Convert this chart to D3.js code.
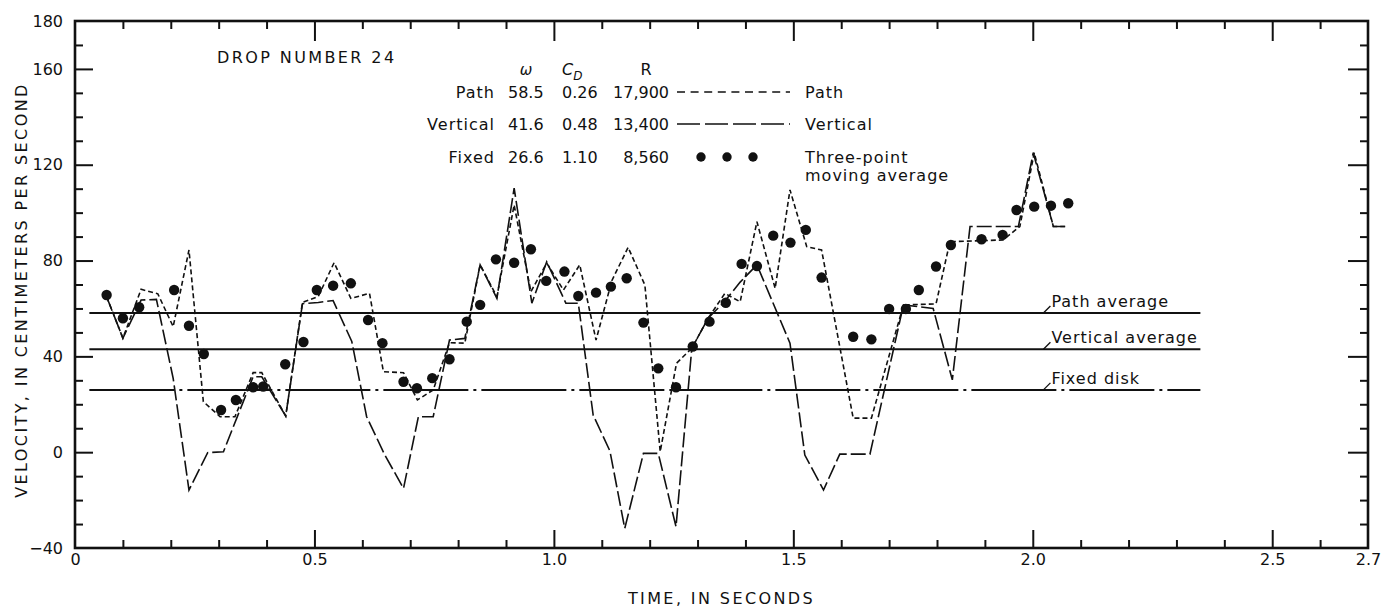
<!DOCTYPE html>
<html><head><meta charset="utf-8">
<script src="https://cdn.jsdelivr.net/npm/d3@7"></script>
<style>
html,body{margin:0;padding:0;background:#fff;}
svg{display:block;}
text{font-family:"DejaVu Sans",sans-serif;font-size:16px;fill:#111;}
.caps{letter-spacing:2.4px;}
.lc{letter-spacing:1px;}
</style></head><body>
<svg id="chart" width="1383" height="607"></svg>
<script>
// ---- data ----
const dotTimes = [0.066,0.100,0.134,0.207,0.238,0.269,0.305,0.336,0.372,0.393,0.439,0.477,0.505,0.539,0.576,0.612,0.642,0.686,0.714,0.746,0.782,0.818,0.846,0.879,0.917,0.952,0.984,1.022,1.051,1.088,1.119,1.152,1.187,1.218,1.255,1.290,1.325,1.359,1.392,1.424,1.458,1.494,1.526,1.559,1.625,1.663,1.700,1.735,1.762,1.798,1.829,1.893,1.937,1.966,2.003,2.038,2.074];
const dotValues = [65.6,55.9,60.5,67.7,52.8,41.0,17.6,21.8,27.1,27.4,36.7,46.0,67.7,69.5,70.5,55.2,45.5,29.4,26.7,30.9,38.8,54.5,61.5,80.5,79.1,84.7,71.5,75.4,65.2,66.6,69.1,72.6,54.1,35.0,27.1,44.1,54.5,62.4,78.6,77.7,90.4,87.5,92.8,72.9,48.2,47.1,59.8,59.8,67.7,77.5,86.5,88.9,90.7,101.1,102.5,102.9,103.9];

const pathTimes = [0.066,0.100,0.138,0.173,0.205,0.238,0.268,0.303,0.334,0.372,0.390,0.440,0.475,0.508,0.541,0.576,0.615,0.644,0.686,0.715,0.748,0.782,0.814,0.846,0.881,0.917,0.952,0.985,1.020,1.054,1.088,1.121,1.155,1.190,1.222,1.256,1.288,1.322,1.357,1.389,1.424,1.462,1.493,1.528,1.559,1.625,1.663,1.730,1.798,1.827,1.938,1.973,2.003,2.043,2.074];
const pathValues = [64.9,47.6,68.0,66.1,52.4,84.4,21.1,14.8,14.8,33.2,33.2,15.1,62.5,65.0,79.1,64.2,66.3,33.6,33.2,21.8,26.0,45.7,45.5,78.2,64.9,103.2,67.0,78.9,67.7,78.2,46.8,71.6,85.5,69.8,0.2,37.1,43.4,55.9,66.3,62.8,96.2,68.4,109.5,85.8,84.4,14.2,14.2,61.5,61.9,87.9,88.6,94.2,125.0,94.2,94.2];

const vertTimes = [0.066,0.100,0.138,0.170,0.205,0.238,0.277,0.310,0.372,0.390,0.440,0.475,0.508,0.539,0.578,0.609,0.647,0.686,0.717,0.748,0.782,0.814,0.846,0.881,0.917,0.954,0.985,1.025,1.051,1.082,1.117,1.148,1.187,1.218,1.255,1.288,1.322,1.357,1.389,1.424,1.493,1.524,1.563,1.597,1.660,1.730,1.792,1.832,1.869,1.970,2.001,2.043,2.074];
const vertValues = [64.9,47.6,63.5,63.8,30.8,-15.8,-0.2,0.2,31.5,31.5,15.1,62.0,62.5,63.3,46.2,14.8,-1.2,-15.1,14.8,14.8,46.8,47.5,78.2,64.2,110.2,62.2,79.5,62.2,62.2,15.5,0.5,-31.8,-0.5,-0.5,-31.1,43.4,55.9,63.0,71.0,78.2,45.5,-1.2,-15.8,-0.8,-0.8,61.5,60.0,30.2,94.2,94.2,125.0,94.2,94.2];

const averageNames = ["Path average","Vertical average","Fixed disk"];
const averageValues = [58.1, 43.0, 26.0];
const averageRange = [0.03, 2.35];

const xTickValues = [0,0.5,1.0,1.5,2.0,2.5,2.7];
const xTickLabels = ["0","0.5","1.0","1.5","2.0","2.5","2.7"];
const yTickValues = [-40,0,40,80,120,160,180];
const yTickLabels = ["\u221240","0","40","80","120","160","180"];

const legendRows = ["Path","Vertical","Fixed"];
const legendOmega = ["58.5","41.6","26.6"];
const legendCD = ["0.26","0.48","1.10"];
const legendR = ["17,900","13,400","8,560"];
const legendKeys = ["Path","Vertical"];
const dotKeyLines = ["Three-point","moving average"];

// ---- layout ----
const svg = d3.select("#chart");
const L = 75, R = 1368, T = 21, B = 548;
const x = d3.scaleLinear().domain([0,2.7]).range([L,R]);
const y = d3.scaleLinear().domain([-40,180]).range([B,T]);

const minorX = d3.range(1,27).map(i=>i/10).filter(v=>Math.round(v*10)%5!==0);
const majorX = [0.5,1.0,1.5,2.0,2.5];
const minorY = d3.range(-30,180,10).filter(v=>v%40!==0);
const majorY = [0,40,80,120,160];

function tickAxis(axisFn, scale, vals, size, tx, ty){
  const g = svg.append("g").attr("transform",`translate(${tx},${ty})`)
    .call(axisFn(scale).tickValues(vals).tickSize(size).tickFormat(""));
  g.select(".domain").remove();
  g.selectAll("line").attr("stroke","#111").attr("stroke-width",2);
  return g;
}
tickAxis(d3.axisBottom, x, minorX, -8, 0, B);
tickAxis(d3.axisBottom, x, majorX, -18, 0, B);
tickAxis(d3.axisTop, x, minorX, -8, 0, T);
tickAxis(d3.axisTop, x, majorX, -20, 0, T);
tickAxis(d3.axisLeft, y, minorY, -8, L, 0);
tickAxis(d3.axisLeft, y, majorY, -18, L, 0);
tickAxis(d3.axisRight, y, minorY, -8, R, 0);
tickAxis(d3.axisRight, y, majorY, -20, R, 0);

// labels
const xl = svg.append("g").attr("transform",`translate(0,${B})`)
  .call(d3.axisBottom(x).tickValues(xTickValues).tickSize(0).tickPadding(6)
    .tickFormat((d,i)=>xTickLabels[i]));
xl.select(".domain").remove();
const yl = svg.append("g").attr("transform",`translate(${L},0)`)
  .call(d3.axisLeft(y).tickValues(yTickValues).tickSize(0).tickPadding(12)
    .tickFormat((d,i)=>yTickLabels[i]));
yl.select(".domain").remove();
svg.selectAll(".tick text").attr("fill","#111");

// frame
svg.append("rect").attr("x",L).attr("y",T).attr("width",R-L).attr("height",B-T)
  .attr("fill","none").attr("stroke","#111").attr("stroke-width",2.6);

// axis titles
svg.append("text").attr("class","caps").attr("text-anchor","middle")
  .attr("transform","translate(27,290) rotate(-90)")
  .text("VELOCITY, IN CENTIMETERS PER SECOND");
svg.append("text").attr("class","caps").attr("text-anchor","middle")
  .attr("x",(L+R)/2).attr("y",604).text("TIME, IN SECONDS");

// average lines
const avgDash = ["none","none","85,5,3,5"];
averageValues.forEach((v,i)=>{
  svg.append("line").attr("x1",x(averageRange[0])).attr("x2",x(averageRange[1]))
    .attr("y1",y(v)).attr("y2",y(v)).attr("stroke","#111").attr("stroke-width",2)
    .attr("stroke-dasharray",avgDash[i]);
  const lx = x(averageRange[1]) - 157;
  svg.append("line").attr("x1",lx).attr("y1",y(v)).attr("x2",lx+7).attr("y2",y(v)-7)
    .attr("stroke","#111").attr("stroke-width",1.3);
  svg.append("text").attr("class","lc").attr("x",lx+8).attr("y",y(v)-6).text(averageNames[i]);
});

// series lines
const line = d3.line().x(d=>x(d[0])).y(d=>y(d[1]));
svg.append("path").datum(d3.zip(vertTimes,vertValues)).attr("d",line)
  .attr("fill","none").attr("stroke","#111").attr("stroke-width",1.6)
  .attr("stroke-dasharray","15,4").attr("stroke-linejoin","miter");
svg.append("path").datum(d3.zip(pathTimes,pathValues)).attr("d",line)
  .attr("fill","none").attr("stroke","#111").attr("stroke-width",1.6)
  .attr("stroke-dasharray","5,3").attr("stroke-linejoin","miter");

// dots
svg.append("g").selectAll("circle").data(d3.zip(dotTimes,dotValues)).join("circle")
  .attr("cx",d=>x(d[0])).attr("cy",d=>y(d[1])).attr("r",5.2).attr("fill","#111");

// legend / table
svg.append("text").attr("class","caps").attr("x",217).attr("y",63).text("DROP NUMBER 24");
const hdrY = 75;
svg.append("text").attr("x",526).attr("y",hdrY).attr("text-anchor","middle")
  .attr("font-style","italic").style("font-size","15px").text("\u03c9");
const cd = svg.append("text").attr("x",562).attr("y",hdrY).attr("font-style","italic");
cd.append("tspan").text("C");
cd.append("tspan").attr("dy",5).style("font-size","12px").text("D");
svg.append("text").attr("x",646).attr("y",hdrY).attr("text-anchor","middle").text("R");

const rowY = [98,130,163];
legendRows.forEach((name,i)=>{
  svg.append("text").attr("class","lc").attr("x",495).attr("y",rowY[i]).attr("text-anchor","end").text(name);
  svg.append("text").attr("x",508).attr("y",rowY[i]).text(legendOmega[i]);
  svg.append("text").attr("x",562).attr("y",rowY[i]).text(legendCD[i]);
  svg.append("text").attr("x",669).attr("y",rowY[i]).attr("text-anchor","end").text(legendR[i]);
});
const keyDash = ["8,5.6","23,5"];
legendKeys.forEach((k,i)=>{
  svg.append("line").attr("x1",677).attr("x2",790).attr("y1",rowY[i]-6).attr("y2",rowY[i]-6)
    .attr("stroke","#111").attr("stroke-width",1.6).attr("stroke-dasharray",keyDash[i]);
  svg.append("text").attr("class","lc").attr("x",805).attr("y",rowY[i]).text(k);
});
[701,727,753].forEach(cx=>{
  svg.append("circle").attr("cx",cx).attr("cy",rowY[2]-6).attr("r",4.7).attr("fill","#111");
});
dotKeyLines.forEach((t,i)=>{
  svg.append("text").attr("class","lc").attr("x",805).attr("y",rowY[2]+i*18).text(t);
});
</script>
</body></html>
